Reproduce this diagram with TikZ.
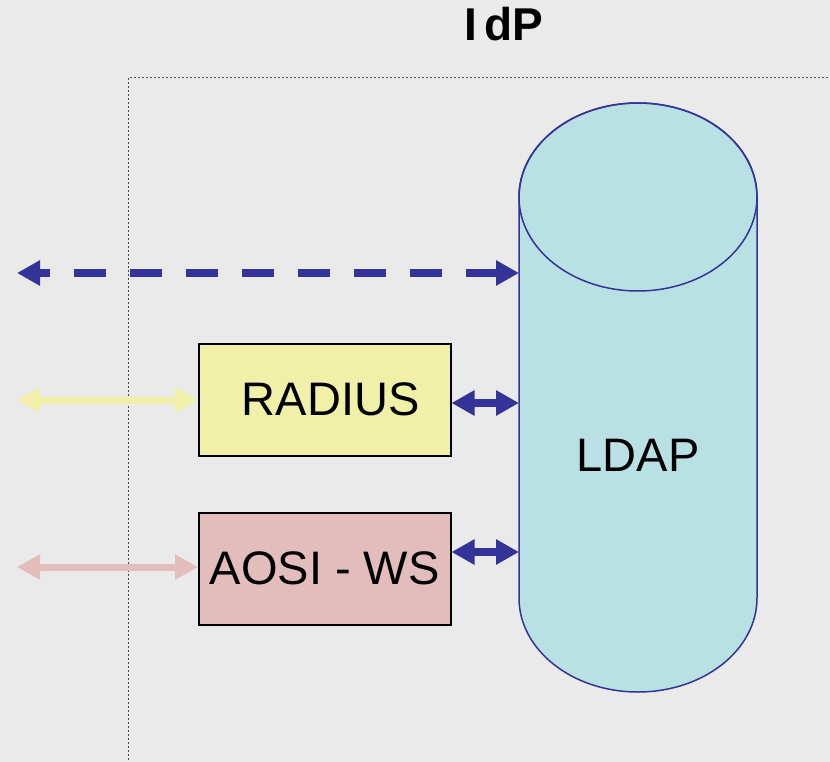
\documentclass[tikz,border=0pt]{standalone}
\usepackage{fontspec}
\setmainfont{Liberation Sans}
\usetikzlibrary{arrows.meta}
\definecolor{bg}{HTML}{EAEAEA}
\definecolor{ldapblue}{HTML}{333399}
\definecolor{cylfill}{HTML}{B9E0E3}
\definecolor{yel}{HTML}{F0F0A8}
\definecolor{pink}{HTML}{E3BCBC}
\tikzset{
  lbl/.style={font=\fontsize{47}{56}\selectfont, inner sep=0pt},
  boxnode/.style={draw=black, line width=1.5pt, minimum width=252pt, minimum height=112pt, inner sep=0pt, anchor=north west},
  bluearrow/.style={draw=ldapblue, line width=8pt, {Triangle[length=23pt,width=24pt]}-{Triangle[length=23pt,width=24pt]}},
  softarrow/.style={line width=7pt, {Triangle[length=23pt,width=24pt]}-{Triangle[length=23pt,width=24pt]}}
}
\begin{document}
\begin{tikzpicture}[x=1pt,y=-1pt]
\useasboundingbox (0,0) rectangle (830,762);
\fill[bg] (0,0) rectangle (830,762);
% dotted IdP box
\begin{scope}
\clip (0,0) rectangle (830,762);
\draw[gray!60!black, line width=1pt, dash pattern=on 2pt off 2pt] (128,900) -- (128,78) -- (900,78);
\end{scope}
\node[font=\fontsize{46}{54}\bfseries\selectfont, anchor=base] (title) at (504,41) {I\,dP};
% cylinder
\filldraw[fill=cylfill, draw=ldapblue, line width=1.5pt]
  (519,197) -- (519,598) arc[start angle=180, end angle=360, x radius=119pt, y radius=94pt] -- (757,197)
  arc[start angle=0, end angle=180, x radius=119pt, y radius=94pt] -- cycle;
\draw[ldapblue, line width=1.5pt] (638,197) ellipse[x radius=119pt, y radius=94pt];
\node[lbl] (ldap) at (638,455) {LDAP};
\coordinate (ldapA) at (519,273);
\coordinate (ldapR) at (519,403);
\coordinate (ldapW) at (519,552);
% boxes
\node[boxnode, fill=yel] (radius) at (198,343) {};
\node[lbl] at ([xshift=6pt]radius.center) {RADIUS};
\node[boxnode, fill=pink] (aosi) at (198,512) {};
\node[lbl] at (aosi.center) {AOSI - WS};
% external endpoints
\coordinate (extA) at (17,273);
\coordinate (extR) at (17,400);
\coordinate (extW) at (17,567);
% arrows
\draw[bluearrow, dash pattern=on 32pt off 24pt, dash phase=21pt] (extA) -- (ldapA);
\draw[bluearrow] (radius.east |- ldapR) -- (ldapR);
\draw[bluearrow] (aosi.east |- ldapW) -- (ldapW);
\draw[softarrow, yel] (extR) -- (radius.west |- extR);
\draw[softarrow, pink] (extW) -- (aosi.west |- extW);
\end{tikzpicture}
\end{document}
